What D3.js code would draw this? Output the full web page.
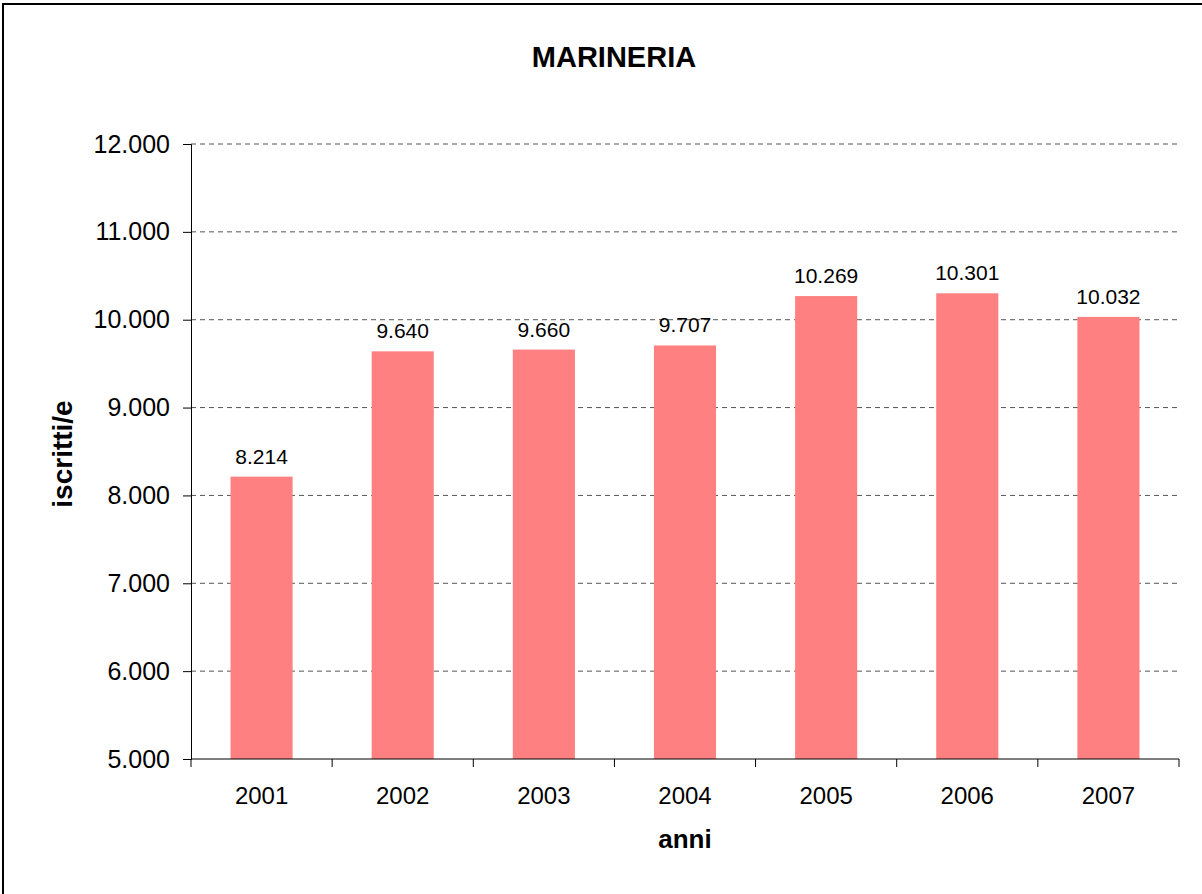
<!DOCTYPE html>
<html>
<head>
<meta charset="utf-8">
<script src="https://cdn.jsdelivr.net/npm/d3@7"></script>
<style>
  body { margin: 0; background: #fff; }
  text { font-family: Arial, "Liberation Sans", sans-serif; fill: #000; }
</style>
</head>
<body>
<svg id="chart" width="1202" height="894"></svg>
<script>
// MARINERIA - iscritti/e per anno

const years = ['2001', '2002', '2003', '2004', '2005', '2006', '2007'];
const iscritti = [8214, 9640, 9660, 9707, 10269, 10301, 10032];
const yTicks = [5000, 6000, 7000, 8000, 9000, 10000, 11000, 12000];

const svg = d3.select('#chart');

// plot area
const plotLeft = 191, plotRight = 1179, plotTop = 144, plotBottom = 759;

// Italian number format: 12.000
const fmt = d => d3.format(',')(d).replace(/,/g, '.');

// outer frame (runs off right and bottom edges)
svg.append('rect')
  .attr('x', 3).attr('y', 4)
  .attr('width', 1220).attr('height', 910)
  .attr('fill', 'none')
  .attr('stroke', '#000')
  .attr('stroke-width', 2);

const x = d3.scaleBand()
  .domain(years)
  .range([plotLeft, plotRight])
  .paddingInner(0.56)
  .paddingOuter(0.28);

const y = d3.scaleLinear()
  .domain([5000, 12000])
  .range([plotBottom, plotTop]);

// dashed gridlines
svg.append('g')
  .selectAll('line')
  .data(yTicks.filter(t => t > 5000))
  .join('line')
    .attr('x1', plotLeft).attr('x2', plotRight)
    .attr('y1', d => y(d)).attr('y2', d => y(d))
    .attr('stroke', '#555')
    .attr('stroke-width', 1)
    .attr('stroke-dasharray', '5,4');

// bars
svg.append('g')
  .selectAll('rect')
  .data(iscritti)
  .join('rect')
    .attr('x', (d, i) => x(years[i]))
    .attr('y', d => y(d))
    .attr('width', x.bandwidth())
    .attr('height', d => plotBottom - y(d))
    .attr('fill', '#ff8080');

// value labels
svg.append('g')
  .selectAll('text')
  .data(iscritti)
  .join('text')
    .attr('x', (d, i) => x(years[i]) + x.bandwidth() / 2)
    .attr('y', d => y(d) - 13)
    .attr('text-anchor', 'middle')
    .style('font-size', '21px')
    .text(d => fmt(d));

// y axis
const yAxis = svg.append('g')
  .attr('transform', `translate(${plotLeft},0)`)
  .call(d3.axisLeft(y).tickValues(yTicks).tickFormat(fmt).tickSize(8).tickPadding(13));
yAxis.select('.domain').attr('stroke', '#000');
yAxis.selectAll('text').style('font-size', '25px').style('font-family', 'Arial, "Liberation Sans", sans-serif');

// x axis: ticks sit on category boundaries
const xAxis = svg.append('g')
  .attr('transform', `translate(0,${plotBottom})`);
xAxis.append('line')
  .attr('x1', plotLeft).attr('x2', plotRight)
  .attr('stroke', '#000');
xAxis.selectAll('line.tick')
  .data(d3.range(years.length + 1))
  .join('line')
    .attr('class', 'tick')
    .attr('x1', i => plotLeft + i * (plotRight - plotLeft) / years.length)
    .attr('x2', i => plotLeft + i * (plotRight - plotLeft) / years.length)
    .attr('y1', 0).attr('y2', 8)
    .attr('stroke', '#000');
xAxis.selectAll('text')
  .data(years)
  .join('text')
    .attr('x', d => x(d) + x.bandwidth() / 2)
    .attr('y', 45)
    .attr('text-anchor', 'middle')
    .style('font-size', '24px')
    .text(d => d);

// titles
svg.append('text')
  .attr('x', 614).attr('y', 67)
  .attr('text-anchor', 'middle')
  .style('font-size', '29px')
  .style('font-weight', 'bold')
  .text('MARINERIA');

svg.append('text')
  .attr('x', (plotLeft + plotRight) / 2).attr('y', 848)
  .attr('text-anchor', 'middle')
  .style('font-size', '26px')
  .style('font-weight', 'bold')
  .text('anni');

svg.append('text')
  .attr('transform', `translate(72,454) rotate(-90)`)
  .attr('text-anchor', 'middle')
  .style('font-size', '28px')
  .style('font-weight', 'bold')
  .text('iscritti/e');
</script>
</body>
</html>
